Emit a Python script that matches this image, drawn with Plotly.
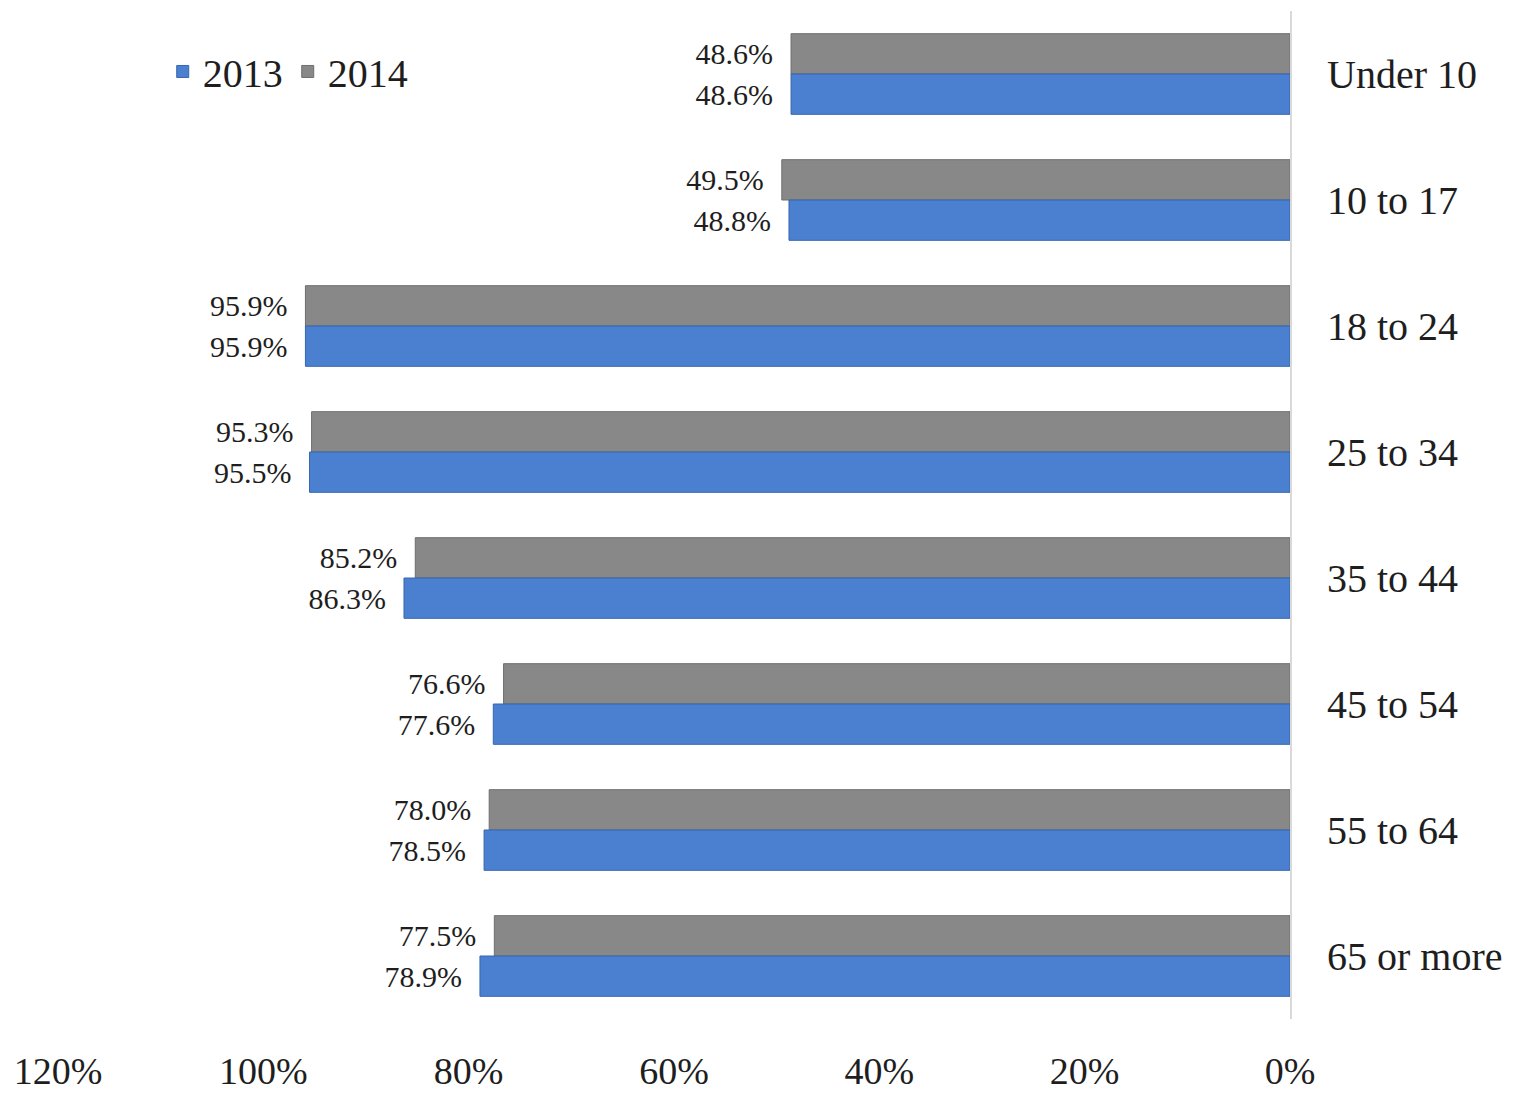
import plotly.graph_objects as go

# Age groups, top to bottom
age_groups = ["Under 10", "10 to 17", "18 to 24", "25 to 34",
              "35 to 44", "45 to 54", "55 to 64", "65 or more"]

# Share (%) by age group for each year
share_2014 = [48.6, 49.5, 95.9, 95.3, 85.2, 76.6, 78.0, 77.5]
share_2013 = [48.6, 48.8, 95.9, 95.5, 86.3, 77.6, 78.5, 78.9]

x_ticks = [0, 20, 40, 60, 80, 100, 120]
x_tick_labels = ["0%", "20%", "40%", "60%", "80%", "100%", "120%"]

FONT = "Liberation Serif"
TEXT_COLOR = "#1e1e1e"

fig = go.Figure()

fig.add_trace(go.Bar(
    name="2014",
    y=age_groups,
    x=share_2014,
    orientation="h",
    marker=dict(color="#888888", line=dict(color="#6e6e6e", width=1)),
    texttemplate="%{x:.1f}%  ",
    textposition="outside",
    textfont=dict(family=FONT, size=30, color=TEXT_COLOR),
    cliponaxis=False,
    legendrank=2,
))

fig.add_trace(go.Bar(
    name="2013",
    y=age_groups,
    x=share_2013,
    orientation="h",
    marker=dict(color="#4a80cf", line=dict(color="#3566b0", width=1)),
    texttemplate="%{x:.1f}%  ",
    textposition="outside",
    textfont=dict(family=FONT, size=30, color=TEXT_COLOR),
    cliponaxis=False,
    legendrank=1,
))

fig.update_layout(
    width=1536,
    height=1093,
    margin=dict(l=58, r=246, t=11, b=74),
    paper_bgcolor="white",
    plot_bgcolor="white",
    barmode="group",
    bargap=0.36,
    bargroupgap=0,
    font=dict(family=FONT, color=TEXT_COLOR),
    showlegend=True,
    legend=dict(
        orientation="h",
        x=0.085, xanchor="left",
        y=0.94, yanchor="middle",
        font=dict(family=FONT, size=40, color=TEXT_COLOR),
        bgcolor="rgba(0,0,0,0)",
    ),
    xaxis=dict(
        range=[120, 0],
        tickvals=x_ticks,
        ticktext=x_tick_labels,
        tickfont=dict(family=FONT, size=38, color=TEXT_COLOR),
        showgrid=False,
        zeroline=False,
        showline=False,
        ticks="",
        ticklabelstandoff=26,
        automargin=False,
    ),
    yaxis=dict(
        categoryorder="array",
        categoryarray=age_groups,
        autorange="reversed",
        side="right",
        tickfont=dict(family=FONT, size=40, color=TEXT_COLOR),
        showgrid=False,
        zeroline=False,
        showline=True,
        linecolor="#d9d9d9",
        linewidth=2,
        ticks="",
        ticklabelstandoff=27,
        automargin=False,
    ),
)

fig.write_html("out.html")
